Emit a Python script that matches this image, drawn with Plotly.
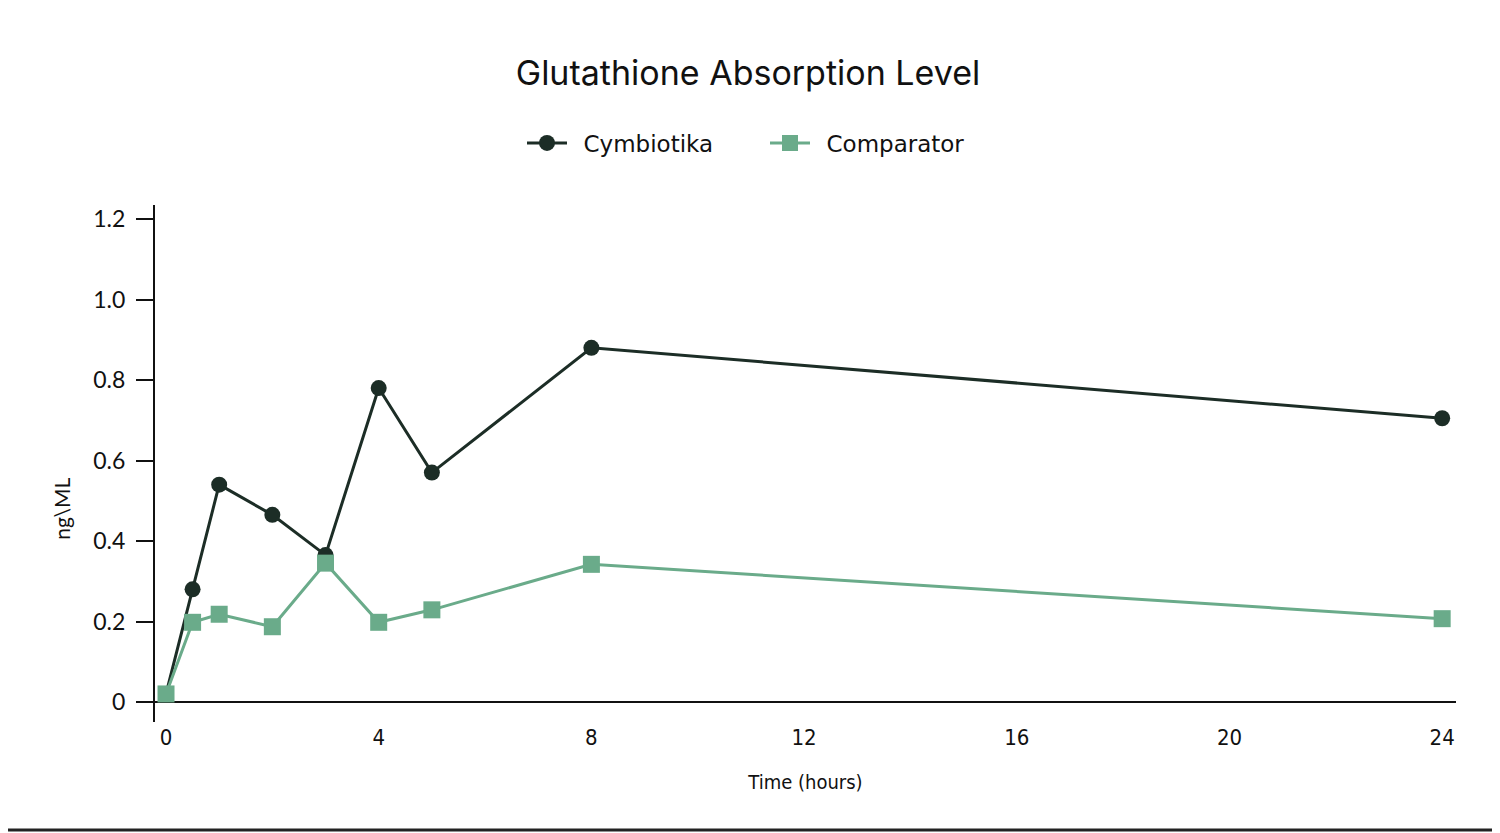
import plotly.graph_objects as go

# Data
time_hours = [0, 0.5, 1, 2, 3, 4, 5, 8, 24]
cymbiotika = [0.02, 0.28, 0.54, 0.465, 0.365, 0.78, 0.57, 0.88, 0.705]
comparator = [0.02, 0.198, 0.218, 0.187, 0.345, 0.198, 0.229, 0.342, 0.207]

x_ticks = [0, 4, 8, 12, 16, 20, 24]
y_ticks = [0, 0.2, 0.4, 0.6, 0.8, 1.0, 1.2]
y_tick_text = ['0', '0.2', '0.4', '0.6', '0.8', '1.0', '1.2']

dark = '#1c2d26'
green = '#6aab8a'
narrow = 'Liberation Sans Narrow, DejaVu Sans Condensed, Roboto, sans-serif'

# the page adds an 8px body margin, so the figure is a bit smaller than the window
W, H = 1492, 825
L, R, T, B = 147, 44, 197, 111
pw, ph = W - L - R, H - T - B

fig = go.Figure()

fig.add_trace(
    go.Scatter(
        x=time_hours,
        y=cymbiotika,
        name='\u2002Cymbiotika',
        mode='lines+markers',
        line=dict(color=dark, width=3),
        marker=dict(symbol='circle', size=16, color=dark)
    )
)

fig.add_trace(
    go.Scatter(
        x=time_hours,
        y=comparator,
        name='\u2002Comparator',
        mode='lines+markers',
        line=dict(color=green, width=3),
        marker=dict(symbol='square', size=17, color=green)
    )
)

fig.update_layout(
    width=W,
    height=H,
    paper_bgcolor='white',
    plot_bgcolor='white',
    margin=dict(l=L, r=R, t=T, b=B),
    title=dict(
        text='Glutathione Absorption Level',
        x=740 / W, xref='container', xanchor='center',
        y=1 - 65 / H, yref='container', yanchor='middle',
        font=dict(family='Inter, Lato, sans-serif', size=34, color='#111111')
    ),
    legend=dict(
        orientation='h',
        x=757 / W, xref='container', xanchor='center',
        y=1 - 135 / H, yref='container', yanchor='middle',
        font=dict(family='DejaVu Sans, Open Sans, sans-serif', size=23, color='#111111'),
        itemwidth=40,
        entrywidth=188,
        tracegroupgap=0
    ),
    xaxis=dict(
        range=[-0.207, 24.26],
        tickvals=x_ticks,
        showline=False,
        showgrid=False,
        zeroline=False,
        ticks='',
        ticklabelstandoff=0,
        tickfont=dict(family=narrow, size=22, color='#111111'),
        title=dict(text='Time (hours)', standoff=25,
                   font=dict(family=narrow, size=20, color='#111111'))
    ),
    yaxis=dict(
        range=[-0.0497, 1.2348],
        tickvals=y_ticks,
        ticktext=y_tick_text,
        showline=True,
        linecolor='#111111',
        linewidth=2,
        showgrid=False,
        zeroline=True,
        zerolinecolor='#111111',
        zerolinewidth=2,
        ticks='outside',
        ticklen=17,
        tickwidth=2,
        tickcolor='#111111',
        ticklabelstandoff=6,
        tickfont=dict(family='Lato, Open Sans, sans-serif', size=23, color='#111111')
    ),
    showlegend=True
)

# y-axis title sits a little below the middle of the axis in the reference
fig.add_annotation(
    text='ng\\ML',
    xref='paper', x=(54 - L) / pw,
    yref='y', y=0.48,
    textangle=-90,
    showarrow=False,
    xanchor='center', yanchor='middle',
    font=dict(family='Lato, Open Sans, sans-serif', size=21, color='#111111')
)

# thin frame on the right and bottom edges, as in the reference screenshot
fx = (1486 - L) / pw
fy = -(822 - T - ph) / ph
fig.add_shape(type='line', xref='paper', yref='paper',
              x0=fx, x1=fx, y0=fy, y1=1 + T / ph,
              line=dict(color='#222222', width=3))
fig.add_shape(type='line', xref='paper', yref='paper',
              x0=-L / pw, x1=fx, y0=fy, y1=fy,
              line=dict(color='#222222', width=3))

fig.write_html('out.html')
